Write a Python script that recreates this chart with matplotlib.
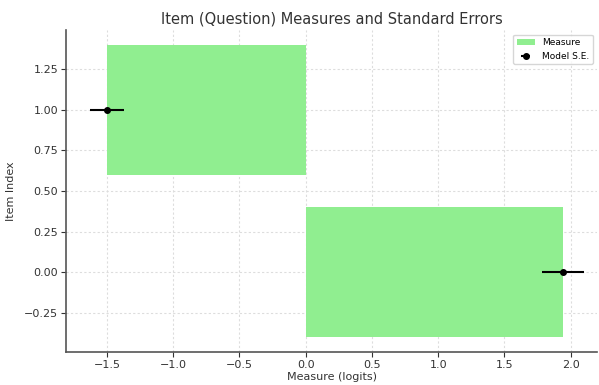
import matplotlib.pyplot as plt

items = [0, 1]
measures = [1.94, -1.5]
model_se = [0.16, 0.13]


def main():
	fig, ax = plt.subplots(figsize=(5.99, 3.85), dpi=100)
	ax.barh(items, measures, height=0.8, color="#90ee90", label="Measure")
	ax.errorbar(measures, items, xerr=model_se, fmt="o", color="black",
				markersize=4, elinewidth=1.5, label="Model S.E.")

	ax.set_xlim(-1.81, 2.2)
	ax.set_ylim(-0.49, 1.49)
	ax.set_title("Item (Question) Measures and Standard Errors", fontsize=10.5, color="#333333", pad=5)
	ax.set_xlabel("Measure (logits)", fontsize=8, color="#333333", labelpad=2)
	ax.set_ylabel("Item Index", fontsize=8, color="#333333", labelpad=6)
	ax.tick_params(labelsize=8, colors="#333333", pad=2)
	ax.grid(True, linestyle=(0, (2, 2)), color="#dddddd", linewidth=0.8)
	ax.set_axisbelow(True)
	for s in ["top", "right"]:
		ax.spines[s].set_visible(False)
	for s in ["left", "bottom"]:
		ax.spines[s].set_color("#555555")
		ax.spines[s].set_linewidth(1.2)
	ax.legend(fontsize=6.5, loc="upper right")

	fig.subplots_adjust(left=0.11, right=0.997, top=0.922, bottom=0.086)
	fig.savefig("out.png")


if __name__ == '__main__':
	main()
